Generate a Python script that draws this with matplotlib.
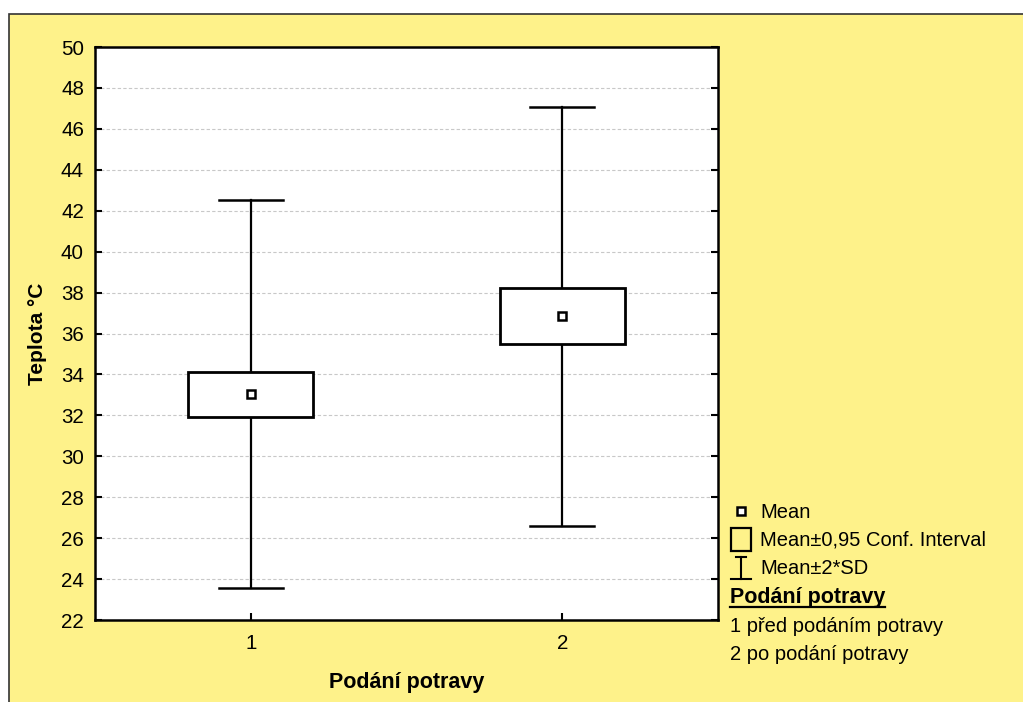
import matplotlib
matplotlib.use("Agg")
import matplotlib.pyplot as plt
from matplotlib.patches import Rectangle
from matplotlib.lines import Line2D

plt.rcParams['font.family'] = ['Liberation Sans', 'DejaVu Sans']

# ---- data ----
groups = ['1', '2']
means = [33.05, 36.85]
ci_low = [31.93, 35.47]
ci_high = [34.10, 38.21]
sd_low = [23.57, 26.59]
sd_high = [42.52, 47.08]
yticks = list(range(22, 51, 2))
legend_groups = ['1 před podáním potravy', '2 po podání potravy']

W, H = 1023, 702
fig = plt.figure(figsize=(W / 100, H / 100), dpi=100, facecolor='white')


def fx(x):
    return x / W


def fy(y):
    return 1 - y / H


YEL = '#fef28a'
# yellow frame
fig.patches.append(Rectangle((fx(9), -0.2), 1.2, fy(14) + 0.2, transform=fig.transFigure,
                             facecolor=YEL, edgecolor='#333333', linewidth=1.2, zorder=-5))

ax = fig.add_axes([fx(95), fy(620), fx(718) - fx(95), fy(47) - fy(620)])
ax.set_zorder(2)
ax.set_facecolor('white')
ax.set_xlim(0.5, 2.5)
ax.set_ylim(22, 50)
ax.set_yticks(yticks)
ax.set_xticks(range(1, len(groups) + 1))
ax.set_xticklabels(groups)
ax.tick_params(direction='in', length=5, width=1.5, labelsize=14.8, pad=8,
               right=True, top=False)
ax.tick_params(axis='x', pad=10)
for s in ax.spines.values():
    s.set_linewidth(1.8)
    s.set_color('black')
ax.yaxis.grid(True, linestyle=(0, (3, 2)), color='#c8c8c8', linewidth=0.8)
ax.set_axisbelow(True)

box_w = 0.2
cap_w = 0.103
for i, g in enumerate(groups):
    x = i + 1
    ax.plot([x, x], [sd_low[i], ci_low[i]], color='black', lw=1.6, zorder=2)
    ax.plot([x, x], [ci_high[i], sd_high[i]], color='black', lw=1.6, zorder=2)
    ax.plot([x - cap_w, x + cap_w], [sd_low[i], sd_low[i]], color='black', lw=1.8, zorder=2)
    ax.plot([x - cap_w, x + cap_w], [sd_high[i], sd_high[i]], color='black', lw=1.8, zorder=2)
    ax.add_patch(Rectangle((x - box_w, ci_low[i]), 2 * box_w, ci_high[i] - ci_low[i],
                           facecolor='white', edgecolor='black', linewidth=2, zorder=3))
    ax.plot([x], [means[i]], marker='s', markersize=6, markerfacecolor='white',
            markeredgecolor='black', markeredgewidth=1.8, zorder=4)

ax.set_ylabel('Teplota °C', fontsize=15, fontweight='bold', labelpad=10)
ax.set_xlabel('Podání potravy', fontsize=15.5, fontweight='bold', labelpad=14)

# ---- legend ----
fs = 14.5
fig.add_artist(Line2D([fx(741)], [fy(511)], marker='s', markersize=6, markerfacecolor='white',
                      markeredgecolor='black', markeredgewidth=1.8, transform=fig.transFigure))
fig.text(fx(760), fy(512), 'Mean', fontsize=fs, va='center', ha='left')
fig.patches.append(Rectangle((fx(731), fy(551)), fx(751) - fx(731), fy(528) - fy(551),
                             transform=fig.transFigure, facecolor='none',
                             edgecolor='black', linewidth=1.6))
fig.text(fx(760), fy(540), 'Mean±0,95 Conf. Interval', fontsize=fs, va='center', ha='left')
fig.add_artist(Line2D([fx(741), fx(741)], [fy(557), fy(579)], color='black', lw=1.5,
                      transform=fig.transFigure))
fig.add_artist(Line2D([fx(736), fx(746)], [fy(557), fy(557)], color='black', lw=1.5,
                      transform=fig.transFigure))
fig.add_artist(Line2D([fx(731), fx(751)], [fy(579), fy(579)], color='black', lw=1.5,
                      transform=fig.transFigure))
fig.text(fx(760), fy(569), 'Mean±2*SD', fontsize=fs, va='center', ha='left')
t = fig.text(fx(730), fy(597), 'Podání potravy', fontsize=15.5, fontweight='bold',
             va='center', ha='left')
for k, lab in enumerate(legend_groups):
    fig.text(fx(730), fy(626 + 28 * k), lab, fontsize=fs, va='center', ha='left')

fig.canvas.draw()
bb = t.get_window_extent()
fig.add_artist(Line2D([fx(bb.x0), fx(bb.x1)], [fy(607), fy(607)], color='black', lw=1.6,
                      transform=fig.transFigure))

fig.savefig('out.png', dpi=100, facecolor='white')
